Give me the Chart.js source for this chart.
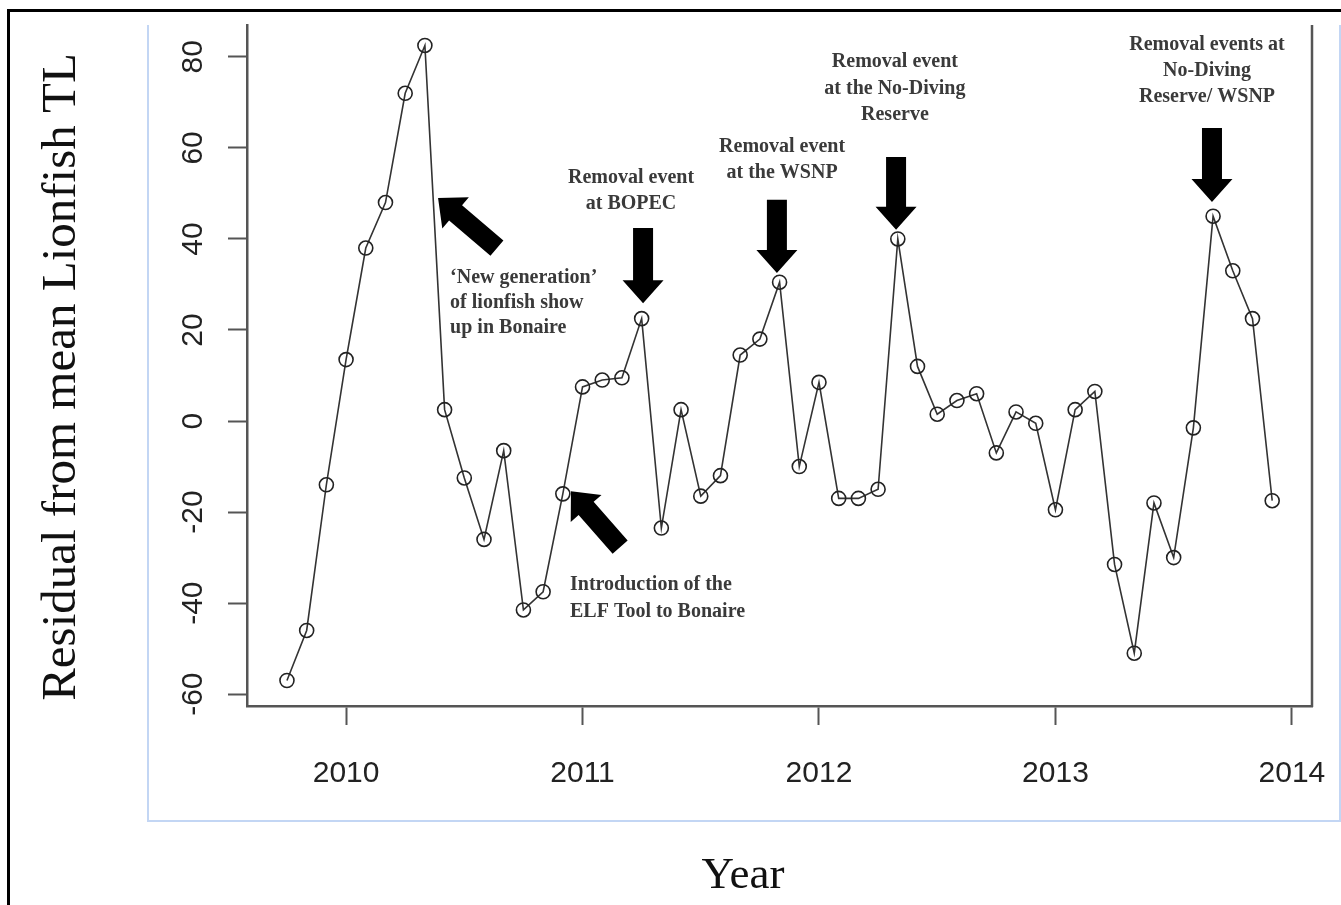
<!DOCTYPE html>
<html>
<head>
<meta charset="utf-8">
<title>Residual from mean Lionfish TL</title>
<script src="https://cdn.jsdelivr.net/npm/chart.js@4.4.1/dist/chart.umd.min.js"></script>
<style>
  html, body { margin: 0; padding: 0; background: #fff; }
  #wrap { position: relative; width: 1341px; height: 905px; }
</style>
</head>
<body>
<div id="wrap"><canvas id="lionfish-chart"></canvas></div>
<script>
// monthly sampling, Oct 2009 - Dec 2013
var months = [
    "2009-10", "2009-11", "2009-12",
    "2010-01", "2010-02", "2010-03", "2010-04", "2010-05", "2010-06", "2010-07", "2010-08", "2010-09", "2010-10", "2010-11", "2010-12",
    "2011-01", "2011-02", "2011-03", "2011-04", "2011-05", "2011-06", "2011-07", "2011-08", "2011-09", "2011-10", "2011-11", "2011-12",
    "2012-01", "2012-02", "2012-03", "2012-04", "2012-05", "2012-06", "2012-07", "2012-08", "2012-09", "2012-10", "2012-11", "2012-12",
    "2013-01", "2013-02", "2013-03", "2013-04", "2013-05", "2013-06", "2013-07", "2013-08", "2013-09", "2013-10", "2013-11", "2013-12"
];
var residuals = [
    -57, -46, -14,
    13.5, 38, 48, 72, 82.5, 2.5, -12.5, -26, -6.5, -41.5, -37.5, -16,
    7.5, 9, 9.5, 22.5, -23.5, 2.5, -16.5, -12, 14.5, 18, 30.5, -10,
    8.5, -17, -17, -15, 40, 12, 1.5, 4.5, 6, -7, 2, -0.5,
    -19.5, 2.5, 6.5, -31.5, -51, -18, -30, -1.5, 45, 33, 22.5, -17.5
];
var yearTicks = [2010, 2011, 2012, 2013, 2014];
var residualTicks = [-60, -40, -20, 0, 20, 40, 60, 80];

// text + arrows, placed in data units
var notes = [
    { lines: ["Removal event", "at BOPEC"], x: 2011.205, y: 53.4, align: "center", lh: 26 },
    { lines: ["Removal event", "at the WSNP"], x: 2011.844, y: 60.2, align: "center", lh: 26 },
    { lines: ["Removal event", "at the No-Diving", "Reserve"], x: 2012.321, y: 78.9, align: "center", lh: 26.5 },
    { lines: ["Removal events at", "No-Diving", "Reserve/ WSNP"], x: 2013.641, y: 82.6, align: "center", lh: 26 },
    { lines: ["\u2018New generation\u2019", "of lionfish show", "up in Bonaire"], x: 2010.44, y: 31.4, align: "left", lh: 25 },
    { lines: ["Introduction of the", "ELF Tool to Bonaire"], x: 2010.947, y: -36.0, align: "left", lh: 27 }
];
var arrows = [
    { from: [2011.256, 42.4], to: [2011.256, 25.9] },
    { from: [2011.822, 48.6], to: [2011.822, 32.5] },
    { from: [2012.326, 58.0], to: [2012.326, 42.0] },
    { from: [2013.662, 64.4], to: [2013.662, 48.1] },
    { from: [2010.638, 38.0], to: [2010.389, 49.0] },
    { from: [2011.159, -27.7], to: [2010.951, -15.4] }
];

function toYear(m) {
    var parts = m.split("-");
    return Number(parts[0]) + (Number(parts[1]) - 1) / 12;
}

var points = months.map(function(m, i) {
    return { x: toYear(m), y: residuals[i] };
});

function drawArrow(ctx, x0, y0, x1, y1) {
    var dx = x1 - x0, dy = y1 - y0;
    var len = Math.sqrt(dx * dx + dy * dy);
    var ux = dx / len, uy = dy / len;
    var nx = -uy, ny = ux;
    var sw = 10, hw = 20.5, hl = 23;
    var bx = x1 - ux * hl, by = y1 - uy * hl;
    ctx.beginPath();
    ctx.moveTo(x0 + nx * sw, y0 + ny * sw);
    ctx.lineTo(bx + nx * sw, by + ny * sw);
    ctx.lineTo(bx + nx * hw, by + ny * hw);
    ctx.lineTo(x1, y1);
    ctx.lineTo(bx - nx * hw, by - ny * hw);
    ctx.lineTo(bx - nx * sw, by - ny * sw);
    ctx.lineTo(x0 - nx * sw, y0 - ny * sw);
    ctx.closePath();
    ctx.fill();
}

// keep the plot box where it is, whatever size the tick labels have
function noLabelPadding(axis) {
    axis.paddingLeft = 0;
    axis.paddingRight = 0;
    axis.paddingTop = 0;
    axis.paddingBottom = 0;
}

var framePlugin = {
    id: "frame",
    beforeDraw: function(chart) {
        var ctx = chart.ctx;
        var area = chart.chartArea;
        ctx.save();
        // outer black frame
        ctx.strokeStyle = "#000";
        ctx.lineWidth = 3;
        ctx.beginPath();
        ctx.moveTo(8.5, 915);
        ctx.lineTo(8.5, 10.5);
        ctx.lineTo(1350, 10.5);
        ctx.stroke();
        // light blue figure box
        ctx.strokeStyle = "#c3d6f4";
        ctx.lineWidth = 2;
        ctx.beginPath();
        ctx.moveTo(148, area.top);
        ctx.lineTo(148, 821);
        ctx.lineTo(1340, 821);
        ctx.lineTo(1340, area.top);
        ctx.stroke();
        ctx.restore();
    },
    afterDraw: function(chart) {
        var ctx = chart.ctx;
        var area = chart.chartArea;
        var xs = chart.scales.x, ys = chart.scales.y;
        ctx.save();
        // right side of the plot box
        ctx.strokeStyle = "#555";
        ctx.lineWidth = 2.5;
        ctx.beginPath();
        ctx.moveTo(area.right, area.top);
        ctx.lineTo(area.right, area.bottom + 1);
        ctx.stroke();

        // arrows
        ctx.fillStyle = "#000";
        arrows.forEach(function(a) {
            drawArrow(ctx,
                xs.getPixelForValue(a.from[0]), ys.getPixelForValue(a.from[1]),
                xs.getPixelForValue(a.to[0]), ys.getPixelForValue(a.to[1]));
        });

        // notes
        ctx.fillStyle = "#3a3a3a";
        ctx.font = "bold 20px 'Liberation Serif', serif";
        ctx.textBaseline = "middle";
        notes.forEach(function(n) {
            ctx.textAlign = n.align;
            var px = xs.getPixelForValue(n.x);
            var py = ys.getPixelForValue(n.y);
            n.lines.forEach(function(line, i) {
                ctx.fillText(line, px, py + i * n.lh);
            });
        });

        // axis titles
        ctx.fillStyle = "#111";
        ctx.textAlign = "center";
        ctx.textBaseline = "alphabetic";
        ctx.font = "45px 'Liberation Serif', serif";
        ctx.fillText("Year", 743, 888);
        ctx.translate(75, 377);
        ctx.rotate(-Math.PI / 2);
        ctx.font = "49px 'Liberation Serif', serif";
        ctx.fillText("Residual from mean Lionfish TL", 0, 0);
        ctx.restore();
    }
};

var context = document.getElementById("lionfish-chart");
window.lionfishChart = new Chart(context, {
    type: "line",
    data: {
        datasets: [{
            label: "Residual",
            data: points,
            borderColor: "#333",
            borderWidth: 1.6,
            pointRadius: 7,
            pointBorderWidth: 1.6,
            pointBorderColor: "#222",
            pointBackgroundColor: "rgba(0,0,0,0)",
            tension: 0,
            fill: false
        }]
    },
    options: {
        responsive: true,
        maintainAspectRatio: false,
        animation: false,
        layout: { padding: { top: 25, right: 29, left: 0, bottom: 0 } },
        plugins: {
            legend: { display: false },
            tooltip: { enabled: false }
        },
        scales: {
            x: {
                type: "linear",
                min: 2009.581,
                max: 2014.085,
                afterBuildTicks: function(axis) {
                    axis.ticks = yearTicks.map(function(v) { return { value: v }; });
                },
                afterFit: function(axis) {
                    axis.height = 199;
                    noLabelPadding(axis);
                },
                border: { display: true, color: "#555", width: 2.5 },
                grid: { drawOnChartArea: false, drawTicks: true, tickLength: 19, tickColor: "#555", tickWidth: 2 },
                ticks: {
                    padding: 31,
                    color: "#222",
                    font: { family: "'Liberation Sans', Arial, sans-serif", size: 30 },
                    callback: function(v) { return String(v); }
                }
            },
            y: {
                type: "linear",
                min: -62.6,
                max: 87.0,
                afterBuildTicks: function(axis) {
                    axis.ticks = residualTicks.map(function(v) { return { value: v }; });
                },
                afterFit: function(axis) {
                    axis.width = 247;
                    noLabelPadding(axis);
                },
                border: { display: true, color: "#555", width: 2.5 },
                grid: { drawOnChartArea: false, drawTicks: true, tickLength: 19, tickColor: "#555", tickWidth: 2 },
                ticks: {
                    padding: 13,
                    minRotation: 90,
                    maxRotation: 90,
                    crossAlign: "center",
                    color: "#222",
                    font: { family: "'Liberation Sans', Arial, sans-serif", size: 30 },
                    callback: function(v) { return String(v); }
                }
            }
        }
    },
    plugins: [framePlugin]
});
</script>
</body>
</html>
